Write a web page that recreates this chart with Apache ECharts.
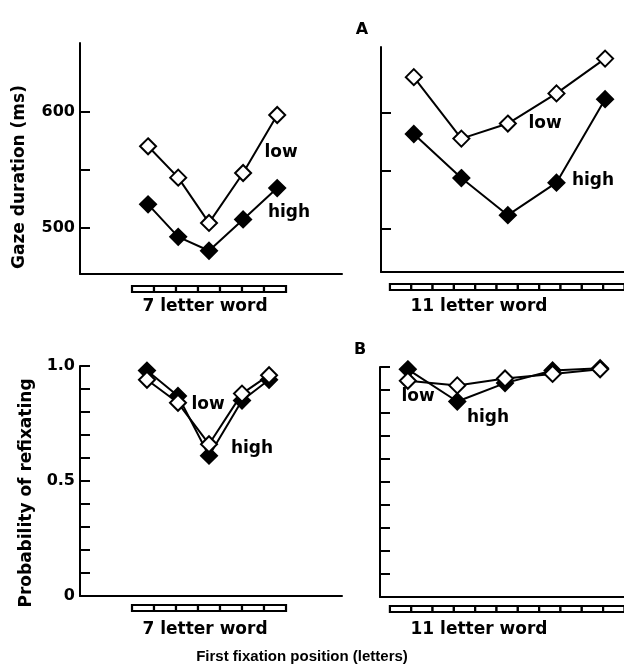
<!DOCTYPE html>
<html>
<head>
<meta charset="utf-8">
<script src="https://cdn.jsdelivr.net/npm/echarts@6/dist/echarts.min.js"></script>
<style>
html,body{margin:0;padding:0;background:#fff;}
#c{width:624px;height:668px;}
</style>
</head>
<body>
<div id="c"></div>
<script>
// ---- data ----
// fixation positions (letters into the word) for each panel
var xA7 = [0.73, 2.1, 3.5, 5.05, 6.6];
var xA11 = [1.12, 3.35, 5.53, 7.81, 10.09];
var xB7 = [0.68, 2.09, 3.5, 5.0, 6.23];
var xB11 = [0.84, 3.16, 5.4, 7.63, 9.86];

// Panel A: gaze duration (ms)
var gazeLow7 = [570, 543, 504, 547, 597];
var gazeHigh7 = [520, 492, 480, 507, 534];
var gazeLow11 = [631, 578, 591, 617, 647];
var gazeHigh11 = [582, 544, 512, 540, 612];

// Panel B: probability of refixating
var refixLow7 = [0.94, 0.84, 0.66, 0.88, 0.96];
var refixHigh7 = [0.98, 0.87, 0.61, 0.85, 0.94];
var refixLow11 = [0.94, 0.92, 0.95, 0.97, 0.99];
var refixHigh11 = [0.99, 0.85, 0.93, 0.985, 0.995];

// letters in words
var letters7 = [0, 1, 2, 3, 4, 5, 6];
var letters11 = [0, 1, 2, 3, 4, 5, 6, 7, 8, 9, 10];

// tick values / labels
var gazeTicks = [500, 550, 600];
var gazeLabels = [500, 600];
var refixLabels = [0, 0.5, 1];

var wordLabels = ['7 letter word', '11 letter word'];
var yTitles = ['Gaze duration (ms)', 'Probability of refixating'];
var xTitle = 'First fixation position (letters)';
var panelLetters = ['A', 'B'];
var seriesNames = ['low', 'high'];

// ---- chart ----
var FONT = 'DejaVu Sans';
var chart = echarts.init(document.getElementById('c'), null, {renderer: 'canvas'});

function zip(xs, ys) { return xs.map(function (x, i) { return [x, ys[i]]; }); }

var yMins = [460, 463, 0, 0];

function lineSeries(idx, xs, ys, filled) {
  return {
    type: 'line', xAxisIndex: idx, yAxisIndex: idx,
    data: zip(xs, ys),
    symbol: 'diamond', symbolSize: 16,
    lineStyle: {color: '#000', width: 2},
    itemStyle: {color: filled ? '#000' : '#fff', borderColor: '#000', borderWidth: 2},
    z: filled ? 3 : 4,
    animation: false
  };
}

function boxSeries(idx, letters, offset) {
  return {
    type: 'custom', xAxisIndex: idx, yAxisIndex: idx,
    data: letters.map(function (l) { return [l]; }),
    clip: false,
    renderItem: function (params, api) {
      var i = api.value(0);
      var p0 = api.coord([i, yMins[idx]]);
      var p1 = api.coord([i + 1, yMins[idx]]);
      return {
        type: 'rect',
        shape: {x: p0[0], y: p0[1] + offset, width: p1[0] - p0[0], height: 6},
        style: {fill: '#fff', stroke: '#000', lineWidth: 2.2}
      };
    },
    animation: false
  };
}

function xAxis(grid, min, max) {
  return {
    type: 'value', gridIndex: grid, min: min, max: max,
    axisLine: {show: true, onZero: false, lineStyle: {color: '#000', width: 2}},
    axisTick: {show: false}, axisLabel: {show: false},
    splitLine: {show: false}
  };
}

var yLine = {show: true, onZero: false, lineStyle: {color: '#000', width: 2}};
var tickStyle = {color: '#000', width: 2};
var labelStyle = {color: '#000', fontFamily: FONT, fontWeight: 'bold', fontSize: 16, margin: 5};

function txt(x, y, s, size, extra) {
  var o = {type: 'text', x: x, y: y, style: {text: s, font: 'bold ' + size + 'px ' + FONT, fill: '#000', align: 'center', verticalAlign: 'middle'}};
  if (extra) { Object.assign(o, extra); }
  return o;
}

var option = {
  backgroundColor: '#fff',
  animation: false,
  grid: [
    {left: 80, top: 43, width: 262, height: 231},
    {left: 381, top: 47, width: 245, height: 225},
    {left: 80, top: 366, width: 262, height: 230},
    {left: 380, top: 367, width: 246, height: 230}
  ],
  xAxis: [
    xAxis(0, -2.364, 9.545),
    xAxis(1, -0.419, 10.977),
    xAxis(2, -2.364, 9.545),
    xAxis(3, -0.465, 10.98)
  ],
  yAxis: [
    {type: 'value', gridIndex: 0, min: 460, max: 659,
     axisLine: yLine,
     axisTick: {show: true, inside: true, length: 10, lineStyle: tickStyle, customValues: gazeTicks},
     axisLabel: Object.assign({customValues: gazeLabels}, labelStyle),
     splitLine: {show: false}},
    {type: 'value', gridIndex: 1, min: 463, max: 657,
     axisLine: yLine,
     axisTick: {show: true, inside: true, length: 10, lineStyle: tickStyle, customValues: gazeTicks},
     axisLabel: {show: false},
     splitLine: {show: false}},
    {type: 'value', gridIndex: 2, min: 0, max: 1, interval: 0.1,
     axisLine: yLine,
     axisTick: {show: true, inside: true, length: 10, lineStyle: tickStyle},
     axisLabel: Object.assign({customValues: refixLabels, formatter: function (v) { return v === 0 ? '0' : v.toFixed(1); }}, labelStyle),
     splitLine: {show: false}},
    {type: 'value', gridIndex: 3, min: 0, max: 1, interval: 0.1,
     axisLine: yLine,
     axisTick: {show: true, inside: true, length: 10, lineStyle: tickStyle},
     axisLabel: {show: false},
     splitLine: {show: false}}
  ],
  series: [
    lineSeries(0, xA7, gazeHigh7, true),
    lineSeries(0, xA7, gazeLow7, false),
    lineSeries(1, xA11, gazeHigh11, true),
    lineSeries(1, xA11, gazeLow11, false),
    lineSeries(2, xB7, refixHigh7, true),
    lineSeries(2, xB7, refixLow7, false),
    lineSeries(3, xB11, refixHigh11, true),
    lineSeries(3, xB11, refixLow11, false),
    boxSeries(0, letters7, 12),
    boxSeries(1, letters11, 12),
    boxSeries(2, letters7, 9),
    boxSeries(3, letters11, 9)
  ],
  graphic: [
    txt(362, 30, panelLetters[0], 16),
    txt(360, 350, panelLetters[1], 16),
    txt(20, 177, yTitles[0], 17, {rotation: Math.PI / 2}),
    txt(27, 493, yTitles[1], 17, {rotation: Math.PI / 2}),
    txt(205, 307, wordLabels[0], 17),
    txt(479, 307, wordLabels[1], 17),
    txt(205, 630, wordLabels[0], 17),
    txt(479, 630, wordLabels[1], 17),
    {type: 'text', x: 302, y: 657, style: {text: xTitle, font: 'bold 15px "Liberation Sans"', fill: '#000', align: 'center', verticalAlign: 'middle'}},
    txt(281, 153, seriesNames[0], 17),
    txt(289, 213, seriesNames[1], 17),
    txt(545, 124, seriesNames[0], 17),
    txt(593, 181, seriesNames[1], 17),
    txt(208, 405, seriesNames[0], 17),
    txt(252, 449, seriesNames[1], 17),
    txt(418, 397, seriesNames[0], 17),
    txt(488, 418, seriesNames[1], 17)
  ]
};
chart.setOption(option);
</script>
</body>
</html>
